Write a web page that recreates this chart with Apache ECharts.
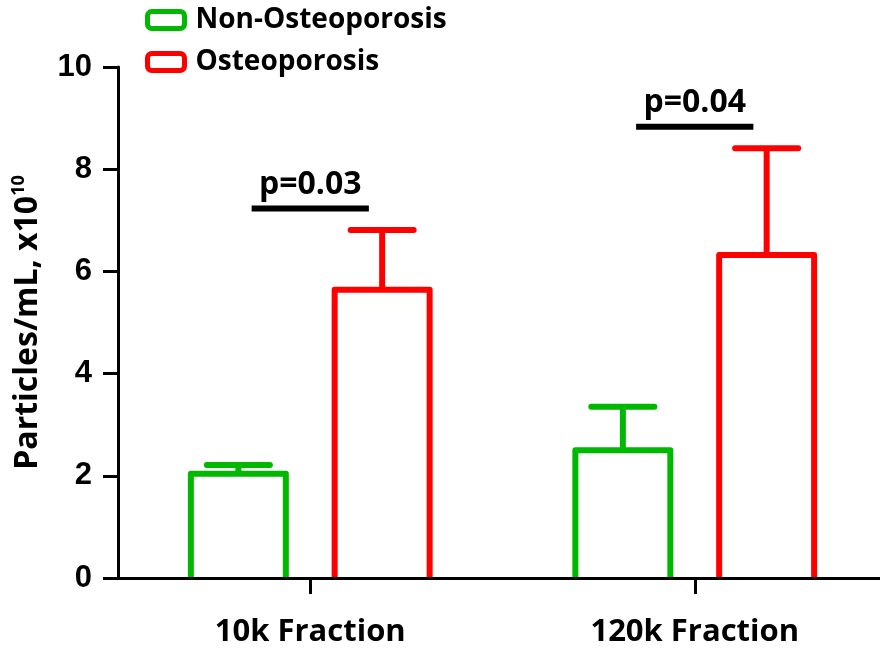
<!DOCTYPE html>
<html>
<head>
<meta charset="utf-8">
<script src="https://cdn.jsdelivr.net/npm/echarts@6/dist/echarts.min.js"></script>
<style>html,body{margin:0;padding:0;background:#fff;}#c{width:880px;height:651px;}</style>
</head>
<body>
<div id="c"></div>
<script>
// ---- data ----
const categories = ['10k Fraction', '120k Fraction'];
const seriesNames = ['Non-Osteoporosis', 'Osteoporosis'];
const nonOsteoMean = [2.04, 2.50];
const nonOsteoUpper = [2.21, 3.35];
const osteoMean = [5.64, 6.32];
const osteoUpper = [6.81, 8.41];
const sigLabels = ['p=0.03', 'p=0.04'];
const sigLevel = [7.23, 8.83];
const yMin = 0, yMax = 10, yInterval = 2;

// ---- styles ----
const GREEN = '#00b800';
const RED = '#ff0000';
const BAR_OFFSET = 0.187;   // fraction of band
const BAR_FRAC = 0.247;
const CAP_FRAC = 0.164;
const SIG_FRAC = 0.305;
const LW = 6;
const SANS = '"Open Sans", sans-serif';

function barRender(sign, color) {
  return function (params, api) {
    const i = api.value(0);
    const base = api.coord([i, 0]);
    const top = api.coord([i, api.value(1)]);
    const err = api.coord([i, api.value(2)]);
    const band = api.size([1, 0])[0];
    const cx = base[0] + sign * BAR_OFFSET * band;
    const hw = BAR_FRAC * band / 2;
    const chw = CAP_FRAC * band / 2;
    return {
      type: 'group',
      children: [
        { type: 'line', shape: { x1: cx, y1: top[1], x2: cx, y2: err[1] }, style: { stroke: color, lineWidth: LW } },
        { type: 'line', shape: { x1: cx - chw, y1: err[1], x2: cx + chw, y2: err[1] }, style: { stroke: color, lineWidth: LW, lineCap: 'round' } },
        { type: 'polyline', shape: { points: [[cx - hw, base[1]], [cx - hw, top[1]], [cx + hw, top[1]], [cx + hw, base[1]]] },
          style: { fill: null, stroke: color, lineWidth: LW, lineJoin: 'round' } }
      ]
    };
  };
}

function sigRender(params, api) {
  const i = api.value(0);
  const p = api.coord([i, api.value(1)]);
  const band = api.size([1, 0])[0];
  const hw = SIG_FRAC * band / 2;
  return {
    type: 'group',
    children: [
      { type: 'line', shape: { x1: p[0] - hw, y1: p[1], x2: p[0] + hw, y2: p[1] }, style: { stroke: '#000', lineWidth: LW } },
      { type: 'text', x: p[0], y: p[1] - 24,
        style: { text: sigLabels[i], fill: '#000', font: 'bold 32px ' + SANS, textAlign: 'center', textVerticalAlign: 'middle' } }
    ]
  };
}

const chart = echarts.init(document.getElementById('c'), null, { renderer: 'canvas' });
chart.setOption({
  animation: false,
  backgroundColor: '#fff',
  grid: { left: 118, right: -7, top: 67, bottom: 73, containLabel: false, outerBoundsMode: 'none' },
  legend: {
    orient: 'vertical', left: 145, top: 6, padding: 0, itemWidth: 37, itemHeight: 17, itemGap: 14,
    textStyle: { fontFamily: SANS, fontWeight: 'bold', fontSize: 28, color: '#000', padding: [0, 0, 0, 6] },
    data: [
      { name: seriesNames[0], icon: 'roundRect', itemStyle: { color: '#fff', borderColor: GREEN, borderWidth: 5 } },
      { name: seriesNames[1], icon: 'roundRect', itemStyle: { color: '#fff', borderColor: RED, borderWidth: 5 } }
    ]
  },
  xAxis: {
    type: 'category', data: categories, z: 10,
    axisLine: { lineStyle: { color: '#000', width: 3 } },
    axisTick: { show: true, alignWithLabel: true, length: 16, lineStyle: { color: '#000', width: 3 } },
    axisLabel: { fontFamily: SANS, fontWeight: 'bold', fontSize: 31, color: '#000', margin: 36, lineHeight: 36 },
    splitLine: { show: false }
  },
  yAxis: {
    type: 'value', min: yMin, max: yMax, interval: yInterval, z: 10,
    name: '{a|Particles/mL, x10}{b|10}',
    nameLocation: 'middle', nameGap: 72, nameRotate: 90,
    nameTextStyle: {
      rich: {
        a: { fontFamily: SANS, fontWeight: 'bold', fontSize: 32, color: '#000', lineHeight: 36 },
        b: { fontFamily: SANS, fontWeight: 'bold', fontSize: 18, color: '#000', lineHeight: 36, verticalAlign: 'top' }
      }
    },
    axisLine: { show: true, lineStyle: { color: '#000', width: 3 } },
    axisTick: { show: true, length: 15, lineStyle: { color: '#000', width: 3 } },
    axisLabel: { fontFamily: '"Liberation Sans", Arial, sans-serif', fontWeight: 'bold', fontSize: 31, color: '#000', margin: 26 },
    splitLine: { show: false }
  },
  series: [
    { name: seriesNames[0], type: 'custom', renderItem: barRender(-1, GREEN), itemStyle: { color: GREEN },
      encode: { x: 0, y: [1, 2] }, data: categories.map((c, i) => [i, nonOsteoMean[i], nonOsteoUpper[i]]) },
    { name: seriesNames[1], type: 'custom', renderItem: barRender(1, RED), itemStyle: { color: RED },
      encode: { x: 0, y: [1, 2] }, data: categories.map((c, i) => [i, osteoMean[i], osteoUpper[i]]) },
    { name: 'significance', type: 'custom', renderItem: sigRender,
      encode: { x: 0, y: 1 }, data: categories.map((c, i) => [i, sigLevel[i]]) }
  ]
});
</script>
</body>
</html>
